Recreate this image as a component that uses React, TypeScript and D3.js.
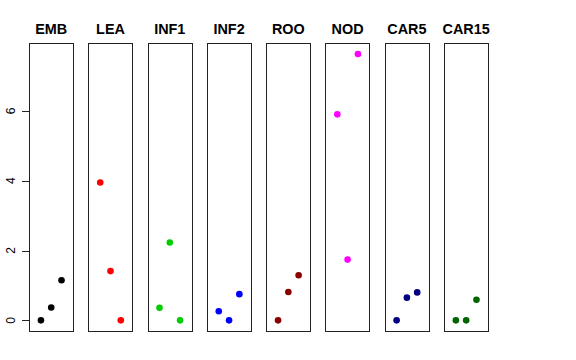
import React, { useEffect, useRef } from 'react';
import * as d3 from 'd3';

// tissue panels, three samples each
const tissues = ['EMB', 'LEA', 'INF1', 'INF2', 'ROO', 'NOD', 'CAR5', 'CAR15'];
const colors = ['#000000', '#FF0000', '#00CD00', '#0000FF', '#8B0000', '#FF00FF', '#000080', '#006400'];
const embValues = [0, 0.37, 1.15];
const leaValues = [3.95, 1.41, 0];
const inf1Values = [0.36, 2.23, 0];
const inf2Values = [0.26, 0, 0.75];
const rooValues = [0, 0.81, 1.29];
const nodValues = [5.9, 1.74, 7.63];
const car5Values = [0, 0.65, 0.8];
const car15Values = [0, 0, 0.59];
const yTicks = [0, 2, 4, 6];

const series = [embValues, leaValues, inf1Values, inf2Values, rooValues, nodValues, car5Values, car15Values];

export default function App() {
    const svgRef = useRef<SVGSVGElement>(null);

    useEffect(() => {
        if (!svgRef.current) return;
        const width = 576;
        const height = 360;
        const top = 43.3;
        const bottom = 331;

        const svg = d3.select(svgRef.current);
        svg.selectAll('*').remove();
        svg.attr('width', width).attr('height', height);

        const band = d3.scaleBand<string>()
            .domain(tissues)
            .range([29, 488.4])
            .paddingInner(0.25)
            .paddingOuter(0);

        // R style 4% expansion of the y range
        const yMax = d3.max(series.flat()) as number;
        const pad = yMax * 0.04;
        const y = d3.scaleLinear().domain([-pad, yMax + pad]).range([bottom, top]);

        tissues.forEach((name, i) => {
            const x0 = band(name) as number;
            const x = d3.scaleLinear().domain([-0.16, 4.16]).range([x0, x0 + band.bandwidth()]);
            const g = svg.append('g');

            g.append('rect')
                .attr('x', Math.round(x0) + 0.5)
                .attr('y', Math.round(top) + 0.5)
                .attr('width', Math.round(band.bandwidth()))
                .attr('height', Math.round(bottom - top))
                .attr('fill', 'none')
                .attr('stroke', '#222')
                .attr('stroke-width', 1);

            g.append('text')
                .attr('x', x0 + band.bandwidth() / 2)
                .attr('y', 34)
                .attr('text-anchor', 'middle')
                .attr('font-family', 'Liberation Sans, Arial, sans-serif')
                .attr('font-weight', 'bold')
                .attr('font-size', 14.4)
                .text(name);

            g.selectAll('circle')
                .data(series[i])
                .enter()
                .append('circle')
                .attr('cx', (_d, j) => x(j + 1))
                .attr('cy', d => y(d))
                .attr('r', 3.3)
                .attr('fill', colors[i]);
        });

        // y axis on the first panel only
        const axisX = Math.round(band(tissues[0]) as number) + 0.5;
        const axis = svg.append('g');
        axis.selectAll('line.tick')
            .data(yTicks)
            .enter()
            .append('line')
            .attr('x1', axisX - 7.5)
            .attr('x2', axisX)
            .attr('y1', d => Math.round(y(d)) + 0.5)
            .attr('y2', d => Math.round(y(d)) + 0.5)
            .attr('stroke', '#222');
        axis.selectAll('text')
            .data(yTicks)
            .enter()
            .append('text')
            .attr('transform', d => `translate(${axisX - 15},${y(d)}) rotate(-90)`)
            .attr('text-anchor', 'middle')
            .attr('font-family', 'Liberation Sans, Arial, sans-serif')
            .attr('font-size', 12)
            .text(d => d);
    }, []);

    return (
        <svg
            ref={svgRef}
            style={{ position: 'absolute', left: 0, top: 0, background: '#fff' }}
        />
    );
}
